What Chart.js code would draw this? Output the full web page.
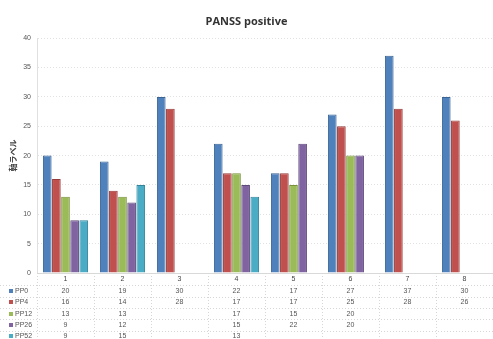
<!DOCTYPE html>
<html lang="ja">
<head>
    <meta charset="UTF-8">
    <title>PANSS positive</title>
    <script src="https://cdn.jsdelivr.net/npm/chart.js"></script>
    <style>
        html, body { margin: 0; padding: 0; background: #fff; overflow: hidden; }
        #chart { display: block; }
    </style>
</head>
<body>
    <canvas id="chart" width="493" height="339"></canvas>
    <script>
        // データ
        const categories = ['1', '2', '3', '4', '5', '6', '7', '8'];
        const seriesNames = ['PP0', 'PP4', 'PP12', 'PP26', 'PP52'];
        const pp0 = [20, 19, 30, 22, 17, 27, 37, 30];
        const pp4 = [16, 14, 28, 17, 17, 25, 28, 26];
        const pp12 = [13, 13, null, 17, 15, 20, null, null];
        const pp26 = [9, 12, null, 15, 22, 20, null, null];
        const pp52 = [9, 15, null, 13, null, null, null, null];
        const yMin = 0, yMax = 40, yStep = 5;

        const fills = ['#4F81BD', '#C0504D', '#9BBB59', '#8064A2', '#4BACC6'];
        const borders = ['#3A6496', '#963C3A', '#76923C', '#5F4A7B', '#31859C'];
        const allSeries = [pp0, pp4, pp12, pp26, pp52];

        const datasets = allSeries.map((vals, i) => ({
            label: seriesNames[i],
            data: vals,
            backgroundColor: fills[i],
            borderColor: borders[i],
            borderWidth: 1,
            categoryPercentage: 0.8,
            barPercentage: 0.95
        }));

        // データテーブル（グラフ下）
        const dataTable = {
            id: 'dataTable',
            afterDraw(chart) {
                const ctx = chart.ctx;
                const x = chart.scales.x;
                const area = chart.chartArea;
                const pitch = 11.3;
                const catY = area.bottom + 6.5;
                const firstRowY = area.bottom + 18;
                const step = (x.getPixelForValue(1) - x.getPixelForValue(0));
                ctx.save();
                ctx.font = '7px "Liberation Sans", sans-serif';
                ctx.textBaseline = 'middle';

                // 罫線（点線）
                ctx.strokeStyle = '#d6d6d6';
                ctx.lineWidth = 1;
                ctx.setLineDash([1, 2]);
                for (let r = 0; r <= seriesNames.length; r++) {
                    const y = Math.round(firstRowY - pitch / 2 + r * pitch) + 0.5;
                    ctx.beginPath();
                    ctx.moveTo(0, y);
                    ctx.lineTo(chart.width, y);
                    ctx.stroke();
                }
                for (let c = 0; c <= categories.length; c++) {
                    const px = Math.round(x.getPixelForValue(0) - step / 2 + c * step) + 0.5;
                    ctx.beginPath();
                    ctx.moveTo(px, area.bottom);
                    ctx.lineTo(px, chart.height);
                    ctx.stroke();
                }
                ctx.setLineDash([]);

                // カテゴリ行
                ctx.fillStyle = '#444';
                ctx.textAlign = 'center';
                categories.forEach((c, i) => {
                    ctx.fillText(c, x.getPixelForValue(i), catY);
                });

                // 系列行
                allSeries.forEach((vals, r) => {
                    const y = firstRowY + r * pitch;
                    ctx.fillStyle = fills[r];
                    ctx.fillRect(9, Math.round(y) - 2, 4, 4);
                    ctx.fillStyle = '#555';
                    ctx.textAlign = 'left';
                    ctx.fillText(seriesNames[r], 15, y);
                    ctx.textAlign = 'center';
                    vals.forEach((v, i) => {
                        if (v !== null) ctx.fillText(String(v), x.getPixelForValue(i), y);
                    });
                });
                ctx.restore();
            }
        };

        new Chart(document.getElementById('chart'), {
            type: 'bar',
            data: { labels: categories, datasets: datasets },
            options: {
                responsive: false,
                animation: false,
                layout: { padding: { left: 0, right: 0, top: 0, bottom: 66 } },
                plugins: {
                    legend: { display: false },
                    tooltip: { enabled: false },
                    title: {
                        display: true,
                        text: 'PANSS positive',
                        color: '#333',
                        font: { family: '"Open Sans", sans-serif', size: 11, weight: 'bold' },
                        padding: { top: 15, bottom: 10 }
                    }
                },
                scales: {
                    x: {
                        ticks: { display: false },
                        grid: { display: false, drawTicks: false },
                        border: { display: true, color: '#d9d9d9' }
                    },
                    y: {
                        min: yMin,
                        max: yMax,
                        afterFit(scale) { scale.width = 37; },
                        ticks: {
                            stepSize: yStep,
                            color: '#555',
                            padding: 6,
                            font: { family: '"Liberation Sans", sans-serif', size: 7 }
                        },
                        grid: { color: '#e2e2e2', drawTicks: false },
                        border: { display: true, color: '#e0e0e0', dash: [1, 2] },
                        title: {
                            display: true,
                            text: '軸ラベル',
                            color: '#444',
                            font: { family: '"Noto Sans CJK JP", sans-serif', size: 8, weight: 'bold' },
                            padding: { top: 8, bottom: 0 }
                        }
                    }
                }
            },
            plugins: [dataTable]
        });
    </script>
</body>
</html>
